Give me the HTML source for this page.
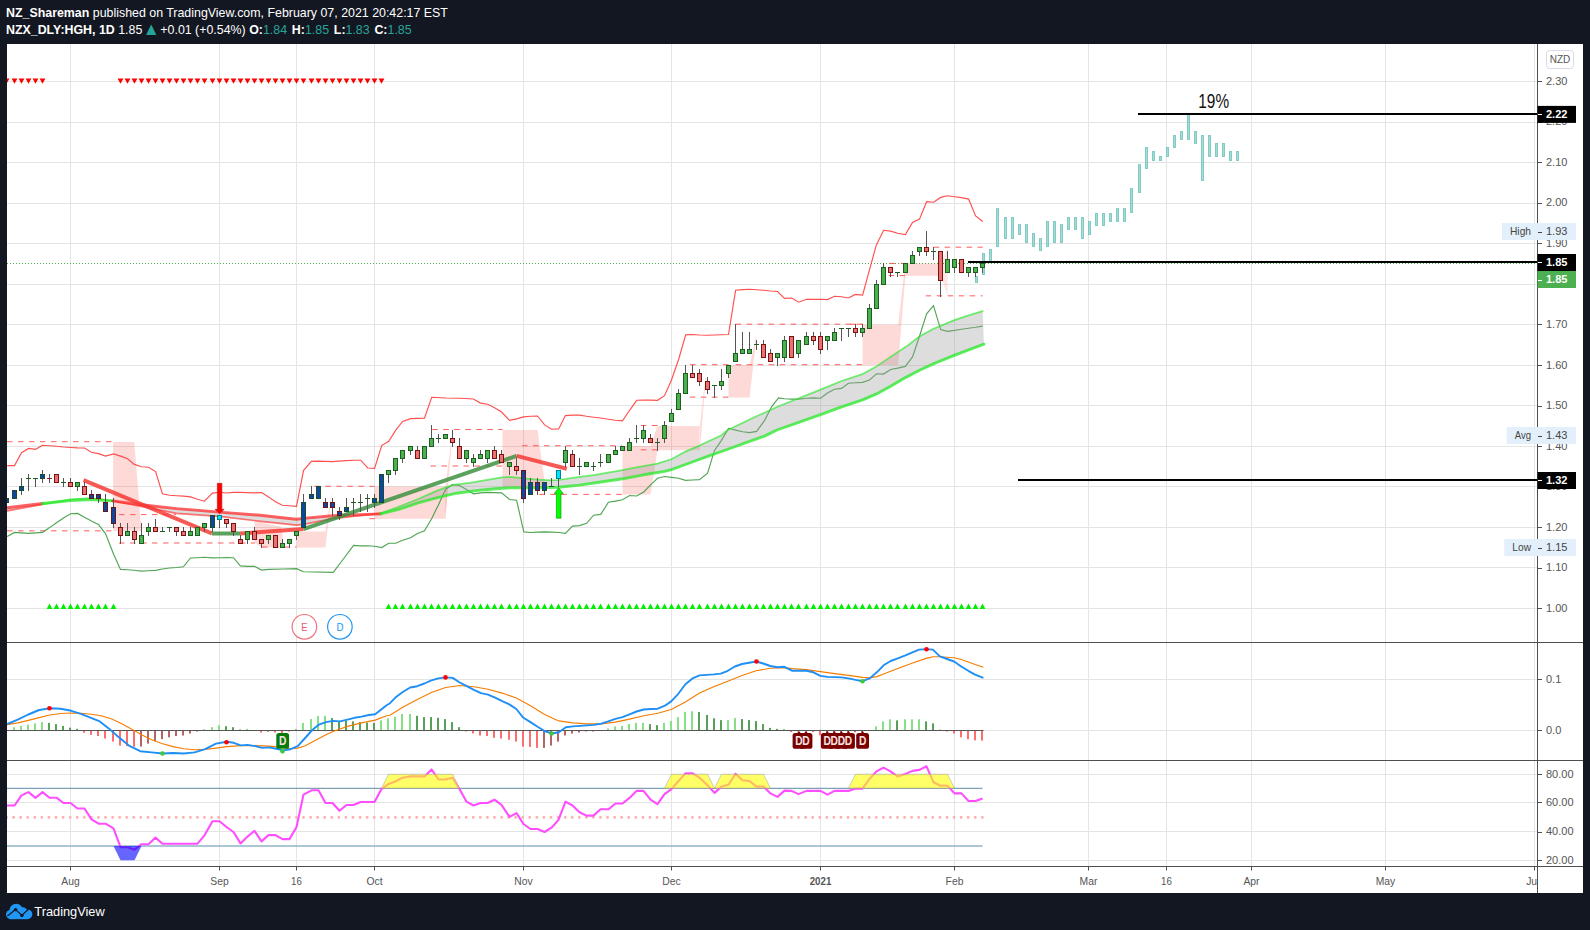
<!DOCTYPE html>
<html><head><meta charset="utf-8"><title>HGH chart</title>
<style>
html,body{margin:0;padding:0;background:#131722;}
body{width:1590px;height:930px;position:relative;overflow:hidden;font-family:"Liberation Sans",sans-serif;}
.hd{position:absolute;left:6px;transform-origin:0 0;transform:scaleX(0.953);color:#fff;font-size:13px;white-space:nowrap;line-height:16px;}
.hd b{font-weight:bold}
.hd b.k{margin-left:1.4px}
.t{color:#26a69a}
.tri{font-size:18px;line-height:0;position:relative;top:0.5px;margin:0 -3px 0 -3.2px;}
.ft{position:absolute;left:34.3px;top:902.5px;color:#fff;font-size:12.8px;line-height:17px;white-space:nowrap;}
</style></head><body>
<svg width="1590" height="930" viewBox="0 0 1590 930" style="position:absolute;left:0;top:0;font-family:'Liberation Sans',sans-serif">
<rect x="7" y="44" width="1576" height="849" fill="#fff"/>
<defs><clipPath id="cm"><rect x="7" y="44" width="1530" height="598.5"/></clipPath><clipPath id="c2"><rect x="7" y="642.5" width="1530" height="118.0"/></clipPath><clipPath id="c3"><rect x="7" y="760.5" width="1530" height="106.0"/></clipPath><clipPath id="ct"><rect x="7" y="866.5" width="1530" height="26.5"/></clipPath></defs>
<path d="M70.5 44V866.5M219.5 44V866.5M296.5 44V866.5M374.5 44V866.5M523.5 44V866.5M671.5 44V866.5M820.5 44V866.5M954.5 44V866.5M1088.5 44V866.5M1166.5 44V866.5M1251.5 44V866.5M1385.5 44V866.5M1534.5 44V866.5M7 608.5H1537M7 567.5H1537M7 527.5H1537M7 486.5H1537M7 446.5H1537M7 405.5H1537M7 365.5H1537M7 324.5H1537M7 284.5H1537M7 243.5H1537M7 203.5H1537M7 162.5H1537M7 122.5H1537M7 81.5H1537M7 679.5H1537M7 730.5H1537M7 774.5H1537M7 802.5H1537M7 831.5H1537M7 860.5H1537" stroke="#e4e4e4" stroke-width="1" fill="none"/>
<g clip-path="url(#cm)">
<path d="M7 263.5H1537" stroke="#4caf50" stroke-width="1" stroke-dasharray="1 2" fill="none"/>
<polygon points="113.1,442 134.2,442 141.5,531 113.1,531" fill="#f44336" fill-opacity="0.2"/>
<polygon points="254.5,521.3 280.6,526.4 282.6,534 282.6,547.5 261.5,547.5 254.5,542.5" fill="#f44336" fill-opacity="0.2"/>
<polygon points="296.7,531.4 325.4,531.4 332.5,488 325.4,547.5 296.7,547.5" fill="#f44336" fill-opacity="0.2"/>
<polygon points="374.6,486.6 447.7,486.6 445.5,518.7 374.6,518.7" fill="#f44336" fill-opacity="0.2"/>
<polygon points="502.5,430.1 537.5,430.1 545.3,487 502.5,487" fill="#f44336" fill-opacity="0.2"/>
<polygon points="622.5,446.1 650.4,446.1 657.5,425.9 657.5,450.2 650.4,494.4 622.5,494.4" fill="#f44336" fill-opacity="0.2"/>
<polygon points="657.5,425.9 699.5,425.9 699.5,450.2 657.5,450.2" fill="#f44336" fill-opacity="0.2"/>
<polygon points="728.5,365.2 749.6,365.2 756.7,333.9 749.6,397.5 728.5,397.5" fill="#f44336" fill-opacity="0.2"/>
<polygon points="862.6,324.7 898.2,324.7 905.3,263.6 905.3,275.7 898.2,365.2 862.6,365.2" fill="#f44336" fill-opacity="0.2"/>
<polygon points="905.4,263.6 940.6,263.6 940.6,275.7 905.4,275.7" fill="#f44336" fill-opacity="0.2"/>
<polygon points="445.5,486.6 452.6,430.1 445.5,518.7" fill="#f44336" fill-opacity="0.2"/>
<polygon points="699.9,425.9 706.8,365.2 699.9,450.2" fill="#f44336" fill-opacity="0.2"/>
<polygon points="940.6,263.6 947.6,247.3 947.6,296 940.6,275.7" fill="#f44336" fill-opacity="0.12"/>
<path d="M7 441.70H113" stroke="#ff4d4d" stroke-opacity="0.9" stroke-width="1" stroke-dasharray="5.5 5.5" fill="none"/>
<path d="M7 530.84H113" stroke="#ff4d4d" stroke-opacity="0.9" stroke-width="1" stroke-dasharray="5.5 5.5" fill="none"/>
<path d="M119 514.63H176" stroke="#ff4d4d" stroke-opacity="0.9" stroke-width="1" stroke-dasharray="5.5 5.5" fill="none"/>
<path d="M119 543.00H255" stroke="#ff4d4d" stroke-opacity="0.9" stroke-width="1" stroke-dasharray="5.5 5.5" fill="none"/>
<path d="M262 547.05H296.5" stroke="#ff4d4d" stroke-opacity="0.9" stroke-width="1" stroke-dasharray="5.5 5.5" fill="none"/>
<path d="M314.4 486.27H374.6" stroke="#ff4d4d" stroke-opacity="0.9" stroke-width="1" stroke-dasharray="5.5 5.5" fill="none"/>
<path d="M369.4 518.69H380.6" stroke="#ff4d4d" stroke-opacity="0.9" stroke-width="1" stroke-dasharray="5.5 5.5" fill="none"/>
<path d="M432.3 429.54H502.5" stroke="#ff4d4d" stroke-opacity="0.9" stroke-width="1" stroke-dasharray="5.5 5.5" fill="none"/>
<path d="M430.5 466.01H502.5" stroke="#ff4d4d" stroke-opacity="0.9" stroke-width="1" stroke-dasharray="5.5 5.5" fill="none"/>
<path d="M522 445.75H621.9" stroke="#ff4d4d" stroke-opacity="0.9" stroke-width="1" stroke-dasharray="5.5 5.5" fill="none"/>
<path d="M539.3 494.37H621.9" stroke="#ff4d4d" stroke-opacity="0.9" stroke-width="1" stroke-dasharray="5.5 5.5" fill="none"/>
<path d="M640.8 425.49H657.5" stroke="#ff4d4d" stroke-opacity="0.9" stroke-width="1" stroke-dasharray="5.5 5.5" fill="none"/>
<path d="M640.8 449.80H657.5" stroke="#ff4d4d" stroke-opacity="0.9" stroke-width="1" stroke-dasharray="5.5 5.5" fill="none"/>
<path d="M689.8 397.13H728.6" stroke="#ff4d4d" stroke-opacity="0.9" stroke-width="1" stroke-dasharray="5.5 5.5" fill="none"/>
<path d="M690 364.71H728.5" stroke="#ff4d4d" stroke-opacity="0.9" stroke-width="1" stroke-dasharray="5.5 5.5" fill="none"/>
<path d="M735.6 324.19H862.6" stroke="#ff4d4d" stroke-opacity="0.9" stroke-width="1" stroke-dasharray="5.5 5.5" fill="none"/>
<path d="M735.7 364.71H862.6" stroke="#ff4d4d" stroke-opacity="0.9" stroke-width="1" stroke-dasharray="5.5 5.5" fill="none"/>
<path d="M889.6 263.41H905.4" stroke="#ff4d4d" stroke-opacity="0.9" stroke-width="1" stroke-dasharray="5.5 5.5" fill="none"/>
<path d="M888.7 275.57H905.4" stroke="#ff4d4d" stroke-opacity="0.9" stroke-width="1" stroke-dasharray="5.5 5.5" fill="none"/>
<path d="M933.6 247.20H982.7" stroke="#ff4d4d" stroke-opacity="0.9" stroke-width="1" stroke-dasharray="5.5 5.5" fill="none"/>
<path d="M925.7 295.83H982.7" stroke="#ff4d4d" stroke-opacity="0.9" stroke-width="1" stroke-dasharray="5.5 5.5" fill="none"/>
<path d="M850 324.19H862.6" stroke="#ff4d4d" stroke-opacity="0.9" stroke-width="1" stroke-dasharray="5.5 5.5" fill="none"/>
<polyline points="7.2,465.6 14.5,465.6 21.5,452.7 28.6,448.4 35.6,449.3 42.5,445.3 49.6,445.8 56.4,446.3 63.5,447 70.6,447.5 77.6,447.9 84.5,448 91.4,452.2 98.4,453.6 105.5,456.1 113.6,453.9 120.5,456.1 127.5,458.7 134.4,464.4 141.5,466.8 148.5,467.3 155.6,471.6 162.4,493.7 169.5,495.2 176.6,495.7 183.4,496.1 190.5,496.9 197.6,499.2 204.4,501.2 212.5,493.1 219.4,492.3 226.5,493 233.5,492.4 240.4,492.4 247.5,492.6 254.5,492.8 261.6,492.6 268.5,496.9 275.1,501.5 282.2,505.3 289.4,505.8 296.5,506.3 303.5,470.6 311.3,461.4 318.3,461.1 325.4,461.4 332.4,461.6 339.5,461.1 346.5,460.6 353.6,460.2 360.7,460.2 367.7,468 374.6,468.3 381.7,445.6 388.7,441.3 395.8,430.1 402.6,421.5 410.6,418.6 417.4,418.4 424.5,418.1 431.7,397.3 446.7,398 460,398.3 473.3,399 480.6,403.1 487.7,404.3 494.5,407.7 501.6,412 509.5,420.3 516.6,418.9 523.5,416.9 530.7,416.3 537.5,416 544.6,424.9 551.6,429.2 558.7,428.9 565.4,415.6 572.5,415.1 579.5,415.1 586.6,416.3 593.6,417.2 600.7,418 608.4,419.2 615.5,420.3 622.5,420.9 629.6,410.3 636.7,400.3 643.7,400 650.4,400.1 657.5,400.3 664.5,395.7 671.4,380.2 678.6,359.5 685.7,334.9 692.5,334.5 699.6,335 707.3,335.2 714.4,335 721.4,334.7 728.5,334.5 735.6,290.3 742.6,289.6 749.5,289.3 756.5,289.8 763.4,290.3 770.5,291 777.5,291.5 784.6,298.4 791.7,298 798.7,302.2 806.5,299.3 813.5,299.3 820.6,299.3 827.4,299.6 834.5,296.3 841.6,296.7 848.4,298 855.5,294.4 862.6,295.1 869.6,269.3 876.3,245.2 883.6,230.3 890.6,231.1 897.7,233.2 905.4,234.6 912.5,222.5 919.5,219.1 926.6,201.7 933.6,202.2 940.7,197.4 947.4,195.8 954.5,196.7 961.5,197.6 968.6,199.1 975.6,216 982.7,221.5" fill="none" stroke="#ff3d3d" stroke-width="1.15" stroke-opacity="0.9"/>
<polyline points="7.2,536.5 14.5,532.4 21.5,532.9 28.6,533.4 35.6,532.9 42.5,532.4 49.6,527.6 56.4,522.7 63.5,518.1 70.6,513.8 77.6,513.4 84.5,517.2 91.4,521 98.4,524.5 105.5,533.6 113.6,554.2 120.5,569.4 127.5,569.7 134.4,570.2 141.5,571.1 148.5,570.7 155.6,570.4 162.4,569 169.5,568 176.6,567.5 183.4,566.8 190.5,558 197.6,557.7 204.4,557.3 212.5,557.8 219.4,557.7 226.5,557.5 233.5,557.7 240.4,565.9 247.5,566.3 254.5,566.3 261.6,570.1 268.5,569.4 283.3,569 296.7,568.7 303.3,571.7 333.3,572.3 342.6,560 353.6,545.4 360.7,545.8 367.7,545.8 374.6,546.3 381.7,547.6 388.7,543.3 395.8,543.2 402.6,540.2 410.6,537.7 417.4,533.4 424.5,530.8 431.6,518.7 438.4,505 445.5,489.5 452.6,484.7 459.4,485.5 466.5,489.5 473.5,493.8 480.6,492.9 487.7,492.4 494.5,492.6 501.6,492.9 509.5,499.5 516.6,500.3 523.8,531.9 530.7,532.5 537.5,532.1 544.6,531.9 551.6,532.1 558.7,532.5 565.4,533.3 572.5,526.1 579.5,525.6 586.6,523.3 593.6,515.2 600.7,514.4 608.4,502.3 615.5,501.1 622.5,499.8 629.6,495.5 636.7,496 643.7,492 650.4,485.1 657.5,478.3 664.5,476.5 671.4,477.4 678.6,478.3 685.5,480.3 692.4,480 699.5,479.6 707.6,473.1 714.4,450.7 721.5,440.4 728.5,428.3 735.6,430.1 742.7,431.8 749.5,432.6 756.6,431.4 764.5,420.6 771.6,406.8 778.5,397.9 784.6,398.7 791.7,399.1 798.7,399.1 806.5,398.2 813.5,397.9 820.6,398.2 827.4,393 834.5,389.3 841.6,388.4 848.4,383.2 855.5,382.7 862.6,382.4 869.4,380.1 876.5,373.8 883.5,374.1 890.6,369.5 897.7,368.1 905.4,366.4 912.5,356.9 919.5,336.3 926.6,313.9 933.5,305.6 940.7,329.6 947.4,331.3 954.5,330.4 961.5,329.2 968.6,328.2 975.6,327.3 982.7,326.1" fill="none" stroke="#3d9b41" stroke-width="1.15" stroke-opacity="0.9"/>
<polygon points="7.2,507.8 42.5,503.5 70.6,500.5 91.4,499.5 112.7,500.9 141.5,504.7 176.6,508.6 219.4,512.1 260.5,515.3 280,517.5 296.5,519.3 303.5,518.4 332.4,515.7 380.6,513.9 398.7,509.4 418.1,502.9 437.4,497.7 456.8,493.2 476.1,490.6 495.5,488.7 510,487.7 523.8,487.7 537.5,487.7 558.7,487.2 579.5,485.1 600.7,482 622.5,478.8 643.7,474.8 664.5,471.4 671.4,469.6 685.5,464.5 707.6,456.4 728.5,449 749.5,441.3 764.5,436.1 776.9,430 798.7,422.3 820.6,414.6 841.6,406.8 862.6,399.9 876.5,393.9 890.6,386.2 905.4,377.6 919.5,370.3 935,363.1 954.8,355.2 983.9,344.2 982.7,311.1 968.6,315.4 954.5,320.1 933.6,328.7 919.5,336.4 908.5,345 890.6,356.9 876.5,366.4 862.6,374.1 841.6,381 820.6,389.6 798.7,398.2 777.5,406.8 756.5,416.3 727.8,430 721.5,435.2 699.5,445.6 685.5,451.6 671.4,459.3 657.5,463.6 636.7,467.4 615.5,471.4 593.6,475.2 572.5,477.9 558.7,480 551.6,480.3 537.5,479.6 523.8,478.3 510,476.9 501.9,477.4 489,479.7 469.7,482.9 452.9,484.8 437.4,490.6 418.1,499 398.7,506.8 380.6,513.4 332.4,518.7 303.5,524.3 296.5,525.1 275.7,522.9 260.5,521.3 219.4,516.3 176.6,513.3 141.5,506.5 112.7,500.9 91.4,498 70.6,499.3 42.5,504.3 7.2,510.8" fill="#9e9e9e" fill-opacity="0.35"/>
<polyline points="7.2,510.8 42.5,504.3" fill="none" stroke="#ff2d2d" stroke-width="1.7" stroke-opacity="0.65" stroke-linecap="round" stroke-linejoin="round"/>
<polyline points="7.2,507.8 42.5,503.5" fill="none" stroke="#ff2d2d" stroke-width="2.9" stroke-opacity="0.75" stroke-linecap="round" stroke-linejoin="round"/>
<polyline points="42.5,504.3 70.6,499.3 91.4,498 112.7,500.9" fill="none" stroke="#27e827" stroke-width="1.7" stroke-opacity="0.65" stroke-linecap="round" stroke-linejoin="round"/>
<polyline points="42.5,503.5 70.6,500.5 91.4,499.5 112.7,500.9" fill="none" stroke="#27e827" stroke-width="2.9" stroke-opacity="0.75" stroke-linecap="round" stroke-linejoin="round"/>
<polyline points="112.7,500.9 141.5,506.5 176.6,513.3 219.4,516.3 260.5,521.3 275.7,522.9 296.5,525.1 303.5,524.3 332.4,518.7 380.6,513.4" fill="none" stroke="#ff2d2d" stroke-width="1.7" stroke-opacity="0.65" stroke-linecap="round" stroke-linejoin="round"/>
<polyline points="112.7,500.9 141.5,504.7 176.6,508.6 219.4,512.1 260.5,515.3 280,517.5 296.5,519.3 303.5,518.4 332.4,515.7 380.6,513.9" fill="none" stroke="#ff2d2d" stroke-width="2.9" stroke-opacity="0.75" stroke-linecap="round" stroke-linejoin="round"/>
<polyline points="380.6,513.4 398.7,506.8 418.1,499 437.4,490.6 452.9,484.8 469.7,482.9 489,479.7 501.9,477.4 510,476.9 523.8,478.3 537.5,479.6 551.6,480.3 558.7,480 572.5,477.9 593.6,475.2 615.5,471.4 636.7,467.4 657.5,463.6 671.4,459.3 685.5,451.6 699.5,445.6 721.5,435.2 727.8,430 756.5,416.3 777.5,406.8 798.7,398.2 820.6,389.6 841.6,381 862.6,374.1 876.5,366.4 890.6,356.9 908.5,345 919.5,336.4 933.6,328.7 954.5,320.1 968.6,315.4 982.7,311.1" fill="none" stroke="#27e827" stroke-width="1.7" stroke-opacity="0.65" stroke-linecap="round" stroke-linejoin="round"/>
<polyline points="380.6,513.9 398.7,509.4 418.1,502.9 437.4,497.7 456.8,493.2 476.1,490.6 495.5,488.7 510,487.7 523.8,487.7 537.5,487.7 558.7,487.2 579.5,485.1 600.7,482 622.5,478.8 643.7,474.8 664.5,471.4 671.4,469.6 685.5,464.5 707.6,456.4 728.5,449 749.5,441.3 764.5,436.1 776.9,430 798.7,422.3 820.6,414.6 841.6,406.8 862.6,399.9 876.5,393.9 890.6,386.2 905.4,377.6 919.5,370.3 935,363.1 954.8,355.2 983.9,344.2" fill="none" stroke="#27e827" stroke-width="2.9" stroke-opacity="0.75" stroke-linecap="round" stroke-linejoin="round"/>
<path d="M83.5 480.2L211.7 533.4" stroke="#f5352f" stroke-width="4" stroke-opacity="0.82" stroke-linecap="butt" fill="none"/>
<path d="M211.7 533.4L240.1 533.6" stroke="#388e3c" stroke-width="4" stroke-opacity="0.82" stroke-linecap="butt" fill="none"/>
<path d="M240.1 533.6L303.5 529.1" stroke="#f5352f" stroke-width="4" stroke-opacity="0.82" stroke-linecap="butt" fill="none"/>
<path d="M303.5 529.1L516.6 455.9" stroke="#388e3c" stroke-width="4" stroke-opacity="0.82" stroke-linecap="butt" fill="none"/>
<path d="M516.6 455.9L566.8 468.8" stroke="#f5352f" stroke-width="4" stroke-opacity="0.82" stroke-linecap="butt" fill="none"/>
<rect x="975.5" y="276.5" width="2" height="6" fill="#80cbc4" fill-opacity="0.7" stroke="#6cc4bb" stroke-opacity="0.8" stroke-width="1"/>
<rect x="982.5" y="253.5" width="2" height="21" fill="#80cbc4" fill-opacity="0.7" stroke="#6cc4bb" stroke-opacity="0.8" stroke-width="1"/>
<rect x="989.5" y="249.5" width="2" height="13" fill="#80cbc4" fill-opacity="0.7" stroke="#6cc4bb" stroke-opacity="0.8" stroke-width="1"/>
<rect x="996.5" y="208.5" width="2" height="38" fill="#80cbc4" fill-opacity="0.7" stroke="#6cc4bb" stroke-opacity="0.8" stroke-width="1"/>
<rect x="1004.5" y="217.5" width="2" height="21" fill="#80cbc4" fill-opacity="0.7" stroke="#6cc4bb" stroke-opacity="0.8" stroke-width="1"/>
<rect x="1011.5" y="217.5" width="2" height="21" fill="#80cbc4" fill-opacity="0.7" stroke="#6cc4bb" stroke-opacity="0.8" stroke-width="1"/>
<rect x="1018.5" y="224.5" width="2" height="10" fill="#80cbc4" fill-opacity="0.7" stroke="#6cc4bb" stroke-opacity="0.8" stroke-width="1"/>
<rect x="1025.5" y="224.5" width="2" height="18" fill="#80cbc4" fill-opacity="0.7" stroke="#6cc4bb" stroke-opacity="0.8" stroke-width="1"/>
<rect x="1032.5" y="233.5" width="2" height="13" fill="#80cbc4" fill-opacity="0.7" stroke="#6cc4bb" stroke-opacity="0.8" stroke-width="1"/>
<rect x="1039.5" y="238.5" width="2" height="12" fill="#80cbc4" fill-opacity="0.7" stroke="#6cc4bb" stroke-opacity="0.8" stroke-width="1"/>
<rect x="1046.5" y="221.5" width="2" height="25" fill="#80cbc4" fill-opacity="0.7" stroke="#6cc4bb" stroke-opacity="0.8" stroke-width="1"/>
<rect x="1053.5" y="221.5" width="2" height="21" fill="#80cbc4" fill-opacity="0.7" stroke="#6cc4bb" stroke-opacity="0.8" stroke-width="1"/>
<rect x="1060.5" y="224.5" width="2" height="18" fill="#80cbc4" fill-opacity="0.7" stroke="#6cc4bb" stroke-opacity="0.8" stroke-width="1"/>
<rect x="1067.5" y="217.5" width="2" height="12" fill="#80cbc4" fill-opacity="0.7" stroke="#6cc4bb" stroke-opacity="0.8" stroke-width="1"/>
<rect x="1074.5" y="217.5" width="2" height="12" fill="#80cbc4" fill-opacity="0.7" stroke="#6cc4bb" stroke-opacity="0.8" stroke-width="1"/>
<rect x="1081.5" y="217.5" width="2" height="21" fill="#80cbc4" fill-opacity="0.7" stroke="#6cc4bb" stroke-opacity="0.8" stroke-width="1"/>
<rect x="1088.5" y="221.5" width="2" height="13" fill="#80cbc4" fill-opacity="0.7" stroke="#6cc4bb" stroke-opacity="0.8" stroke-width="1"/>
<rect x="1095.5" y="213.5" width="2" height="12" fill="#80cbc4" fill-opacity="0.7" stroke="#6cc4bb" stroke-opacity="0.8" stroke-width="1"/>
<rect x="1102.5" y="213.5" width="2" height="12" fill="#80cbc4" fill-opacity="0.7" stroke="#6cc4bb" stroke-opacity="0.8" stroke-width="1"/>
<rect x="1109.5" y="213.5" width="2" height="8" fill="#80cbc4" fill-opacity="0.7" stroke="#6cc4bb" stroke-opacity="0.8" stroke-width="1"/>
<rect x="1116.5" y="208.5" width="2" height="13" fill="#80cbc4" fill-opacity="0.7" stroke="#6cc4bb" stroke-opacity="0.8" stroke-width="1"/>
<rect x="1123.5" y="208.5" width="2" height="13" fill="#80cbc4" fill-opacity="0.7" stroke="#6cc4bb" stroke-opacity="0.8" stroke-width="1"/>
<rect x="1130.5" y="188.5" width="2" height="24" fill="#80cbc4" fill-opacity="0.7" stroke="#6cc4bb" stroke-opacity="0.8" stroke-width="1"/>
<rect x="1138.5" y="164.5" width="2" height="28" fill="#80cbc4" fill-opacity="0.7" stroke="#6cc4bb" stroke-opacity="0.8" stroke-width="1"/>
<rect x="1145.5" y="147.5" width="2" height="21" fill="#80cbc4" fill-opacity="0.7" stroke="#6cc4bb" stroke-opacity="0.8" stroke-width="1"/>
<rect x="1152.5" y="151.5" width="2" height="9" fill="#80cbc4" fill-opacity="0.7" stroke="#6cc4bb" stroke-opacity="0.8" stroke-width="1"/>
<rect x="1159.5" y="156.5" width="2" height="4" fill="#80cbc4" fill-opacity="0.7" stroke="#6cc4bb" stroke-opacity="0.8" stroke-width="1"/>
<rect x="1166.5" y="147.5" width="2" height="9" fill="#80cbc4" fill-opacity="0.7" stroke="#6cc4bb" stroke-opacity="0.8" stroke-width="1"/>
<rect x="1173.5" y="135.5" width="2" height="12" fill="#80cbc4" fill-opacity="0.7" stroke="#6cc4bb" stroke-opacity="0.8" stroke-width="1"/>
<rect x="1180.5" y="131.5" width="2" height="8" fill="#80cbc4" fill-opacity="0.7" stroke="#6cc4bb" stroke-opacity="0.8" stroke-width="1"/>
<rect x="1187.5" y="114.5" width="2" height="25" fill="#80cbc4" fill-opacity="0.7" stroke="#6cc4bb" stroke-opacity="0.8" stroke-width="1"/>
<rect x="1194.5" y="131.5" width="2" height="12" fill="#80cbc4" fill-opacity="0.7" stroke="#6cc4bb" stroke-opacity="0.8" stroke-width="1"/>
<rect x="1201.5" y="135.5" width="2" height="45" fill="#80cbc4" fill-opacity="0.7" stroke="#6cc4bb" stroke-opacity="0.8" stroke-width="1"/>
<rect x="1208.5" y="135.5" width="2" height="21" fill="#80cbc4" fill-opacity="0.7" stroke="#6cc4bb" stroke-opacity="0.8" stroke-width="1"/>
<rect x="1215.5" y="143.5" width="2" height="13" fill="#80cbc4" fill-opacity="0.7" stroke="#6cc4bb" stroke-opacity="0.8" stroke-width="1"/>
<rect x="1222.5" y="143.5" width="2" height="13" fill="#80cbc4" fill-opacity="0.7" stroke="#6cc4bb" stroke-opacity="0.8" stroke-width="1"/>
<rect x="1229.5" y="151.5" width="2" height="9" fill="#80cbc4" fill-opacity="0.7" stroke="#6cc4bb" stroke-opacity="0.8" stroke-width="1"/>
<rect x="1236.5" y="151.5" width="2" height="9" fill="#80cbc4" fill-opacity="0.7" stroke="#6cc4bb" stroke-opacity="0.8" stroke-width="1"/>
<path d="M6.5 498V503" stroke="#555" stroke-width="1"/>
<rect x="4.5" y="498.5" width="4" height="4.0" fill="#0d47a1" stroke="#1b4d2b" stroke-width="1"/>
<path d="M14.5 490V499" stroke="#555" stroke-width="1"/>
<rect x="12.5" y="490.5" width="4" height="8.0" fill="#0d47a1" stroke="#1b4d2b" stroke-width="1"/>
<path d="M21.5 478V495" stroke="#555" stroke-width="1"/>
<rect x="19.5" y="486.5" width="4" height="4.0" fill="#0d47a1" stroke="#1b4d2b" stroke-width="1"/>
<path d="M28.5 474V491" stroke="#555" stroke-width="1"/>
<path d="M26.0 478.5H31.0" stroke="#1b5e20" stroke-width="1"/>
<path d="M35.5 478V487" stroke="#555" stroke-width="1"/>
<path d="M33.0 478.5H38.0" stroke="#1b5e20" stroke-width="1"/>
<path d="M42.5 470V483" stroke="#555" stroke-width="1"/>
<rect x="40.5" y="474.5" width="4" height="4.0" fill="#0d47a1" stroke="#1b4d2b" stroke-width="1"/>
<path d="M49.5 474V483" stroke="#555" stroke-width="1"/>
<path d="M47.0 478.5H52.0" stroke="#8e1b1b" stroke-width="1"/>
<path d="M56.5 474V483" stroke="#555" stroke-width="1"/>
<rect x="54.5" y="474.5" width="4" height="8.0" fill="#e57373" stroke="#7f1010" stroke-width="1"/>
<path d="M63.5 478V487" stroke="#555" stroke-width="1"/>
<path d="M61.0 482.5H66.0" stroke="#1b5e20" stroke-width="1"/>
<path d="M70.5 478V487" stroke="#555" stroke-width="1"/>
<rect x="68.5" y="482.5" width="4" height="4.0" fill="#e57373" stroke="#7f1010" stroke-width="1"/>
<path d="M77.5 482V491" stroke="#555" stroke-width="1"/>
<rect x="75.5" y="482.5" width="4" height="4.0" fill="#4caf50" stroke="#1b5e20" stroke-width="1"/>
<path d="M84.5 482V495" stroke="#555" stroke-width="1"/>
<rect x="82.5" y="486.5" width="4" height="8.0" fill="#e57373" stroke="#7f1010" stroke-width="1"/>
<path d="M91.5 490V499" stroke="#555" stroke-width="1"/>
<rect x="89.5" y="494.5" width="4" height="4.0" fill="#0d47a1" stroke="#6b1414" stroke-width="1"/>
<path d="M98.5 494V503" stroke="#555" stroke-width="1"/>
<rect x="96.5" y="494.5" width="4" height="4.0" fill="#0d47a1" stroke="#6b1414" stroke-width="1"/>
<path d="M105.5 494V512" stroke="#555" stroke-width="1"/>
<rect x="103.5" y="502.5" width="4" height="9.0" fill="#0d47a1" stroke="#6b1414" stroke-width="1"/>
<path d="M113.5 498V528" stroke="#555" stroke-width="1"/>
<rect x="111.5" y="507.5" width="4" height="16.0" fill="#0d47a1" stroke="#6b1414" stroke-width="1"/>
<path d="M120.5 523V544" stroke="#555" stroke-width="1"/>
<rect x="118.5" y="527.5" width="4" height="8.0" fill="#e57373" stroke="#7f1010" stroke-width="1"/>
<path d="M127.5 523V536" stroke="#555" stroke-width="1"/>
<rect x="125.5" y="531.5" width="4" height="4.0" fill="#4caf50" stroke="#1b5e20" stroke-width="1"/>
<path d="M134.5 527V544" stroke="#555" stroke-width="1"/>
<rect x="132.5" y="531.5" width="4" height="8.0" fill="#e57373" stroke="#7f1010" stroke-width="1"/>
<path d="M141.5 523V544" stroke="#555" stroke-width="1"/>
<rect x="139.5" y="535.5" width="4" height="8.0" fill="#4caf50" stroke="#1b5e20" stroke-width="1"/>
<path d="M148.5 523V536" stroke="#555" stroke-width="1"/>
<rect x="146.5" y="527.5" width="4" height="4.0" fill="#4caf50" stroke="#1b5e20" stroke-width="1"/>
<path d="M155.5 519V532" stroke="#555" stroke-width="1"/>
<rect x="153.5" y="527.5" width="4" height="4.0" fill="#e57373" stroke="#7f1010" stroke-width="1"/>
<path d="M162.5 527V532" stroke="#555" stroke-width="1"/>
<path d="M160.0 531.5H165.0" stroke="#1b5e20" stroke-width="1"/>
<path d="M169.5 527V532" stroke="#555" stroke-width="1"/>
<path d="M167.0 527.5H172.0" stroke="#1b5e20" stroke-width="1"/>
<path d="M176.5 527V536" stroke="#555" stroke-width="1"/>
<rect x="174.5" y="527.5" width="4" height="4.0" fill="#e57373" stroke="#7f1010" stroke-width="1"/>
<path d="M183.5 527V536" stroke="#555" stroke-width="1"/>
<rect x="181.5" y="531.5" width="4" height="4.0" fill="#e57373" stroke="#7f1010" stroke-width="1"/>
<path d="M190.5 527V536" stroke="#555" stroke-width="1"/>
<rect x="188.5" y="531.5" width="4" height="4.0" fill="#4caf50" stroke="#1b5e20" stroke-width="1"/>
<path d="M197.5 527V536" stroke="#555" stroke-width="1"/>
<rect x="195.5" y="527.5" width="4" height="8.0" fill="#4caf50" stroke="#1b5e20" stroke-width="1"/>
<path d="M204.5 523V532" stroke="#555" stroke-width="1"/>
<rect x="202.5" y="523.5" width="4" height="4.0" fill="#4caf50" stroke="#1b5e20" stroke-width="1"/>
<path d="M212.5 515V532" stroke="#555" stroke-width="1"/>
<rect x="210.5" y="515.5" width="4" height="12.0" fill="#0d47a1" stroke="#1b4d2b" stroke-width="1"/>
<path d="M219.5 515V528" stroke="#555" stroke-width="1"/>
<rect x="217.5" y="515.5" width="4" height="4.0" fill="#00e5ff" stroke="#00838f" stroke-width="1"/>
<path d="M226.5 519V528" stroke="#555" stroke-width="1"/>
<rect x="224.5" y="519.5" width="4" height="4.0" fill="#e57373" stroke="#7f1010" stroke-width="1"/>
<path d="M233.5 523V536" stroke="#555" stroke-width="1"/>
<rect x="231.5" y="523.5" width="4" height="8.0" fill="#e57373" stroke="#7f1010" stroke-width="1"/>
<path d="M240.5 535V544" stroke="#555" stroke-width="1"/>
<rect x="238.5" y="539.5" width="4" height="4.0" fill="#e57373" stroke="#7f1010" stroke-width="1"/>
<path d="M247.5 531V544" stroke="#555" stroke-width="1"/>
<rect x="245.5" y="531.5" width="4" height="8.0" fill="#4caf50" stroke="#1b5e20" stroke-width="1"/>
<path d="M254.5 527V540" stroke="#555" stroke-width="1"/>
<rect x="252.5" y="531.5" width="4" height="8.0" fill="#e57373" stroke="#7f1010" stroke-width="1"/>
<path d="M261.5 539V548" stroke="#555" stroke-width="1"/>
<rect x="259.5" y="539.5" width="4" height="4.0" fill="#e57373" stroke="#7f1010" stroke-width="1"/>
<path d="M268.5 535V544" stroke="#555" stroke-width="1"/>
<rect x="266.5" y="535.5" width="4" height="4.0" fill="#4caf50" stroke="#1b5e20" stroke-width="1"/>
<path d="M275.5 535V548" stroke="#555" stroke-width="1"/>
<rect x="273.5" y="535.5" width="4" height="12.0" fill="#e57373" stroke="#7f1010" stroke-width="1"/>
<path d="M282.5 539V548" stroke="#555" stroke-width="1"/>
<rect x="280.5" y="543.5" width="4" height="4.0" fill="#4caf50" stroke="#1b5e20" stroke-width="1"/>
<path d="M289.5 539V548" stroke="#555" stroke-width="1"/>
<rect x="287.5" y="539.5" width="4" height="4.0" fill="#4caf50" stroke="#1b5e20" stroke-width="1"/>
<path d="M296.5 531V540" stroke="#555" stroke-width="1"/>
<rect x="294.5" y="531.5" width="4" height="4.0" fill="#4caf50" stroke="#1b5e20" stroke-width="1"/>
<path d="M303.5 494V528" stroke="#555" stroke-width="1"/>
<rect x="301.5" y="502.5" width="4" height="25.0" fill="#0d47a1" stroke="#1b4d2b" stroke-width="1"/>
<path d="M311.5 486V499" stroke="#555" stroke-width="1"/>
<rect x="309.5" y="494.5" width="4" height="4.0" fill="#0d47a1" stroke="#1b4d2b" stroke-width="1"/>
<path d="M318.5 486V499" stroke="#555" stroke-width="1"/>
<rect x="316.5" y="486.5" width="4" height="12.0" fill="#0d47a1" stroke="#1b4d2b" stroke-width="1"/>
<path d="M325.5 498V508" stroke="#555" stroke-width="1"/>
<rect x="323.5" y="502.5" width="4" height="5.0" fill="#0d47a1" stroke="#6b1414" stroke-width="1"/>
<path d="M332.5 498V516" stroke="#555" stroke-width="1"/>
<rect x="330.5" y="502.5" width="4" height="5.0" fill="#0d47a1" stroke="#6b1414" stroke-width="1"/>
<path d="M339.5 507V520" stroke="#555" stroke-width="1"/>
<rect x="337.5" y="511.5" width="4" height="4.0" fill="#0d47a1" stroke="#6b1414" stroke-width="1"/>
<path d="M346.5 498V512" stroke="#555" stroke-width="1"/>
<rect x="344.5" y="507.5" width="4" height="4.0" fill="#0d47a1" stroke="#1b4d2b" stroke-width="1"/>
<path d="M353.5 498V516" stroke="#555" stroke-width="1"/>
<path d="M351.0 502.5H356.0" stroke="#1b5e20" stroke-width="1"/>
<path d="M360.5 494V512" stroke="#555" stroke-width="1"/>
<path d="M358.0 502.5H363.0" stroke="#1b5e20" stroke-width="1"/>
<path d="M367.5 494V512" stroke="#555" stroke-width="1"/>
<path d="M365.0 498.5H370.0" stroke="#1b5e20" stroke-width="1"/>
<path d="M374.5 494V508" stroke="#555" stroke-width="1"/>
<rect x="372.5" y="498.5" width="4" height="4.0" fill="#0d47a1" stroke="#1b4d2b" stroke-width="1"/>
<path d="M381.5 474V503" stroke="#555" stroke-width="1"/>
<rect x="379.5" y="474.5" width="4" height="28.0" fill="#0d47a1" stroke="#1b4d2b" stroke-width="1"/>
<path d="M388.5 470V483" stroke="#555" stroke-width="1"/>
<rect x="386.5" y="470.5" width="4" height="4.0" fill="#4caf50" stroke="#1b5e20" stroke-width="1"/>
<path d="M395.5 458V475" stroke="#555" stroke-width="1"/>
<rect x="393.5" y="458.5" width="4" height="12.0" fill="#4caf50" stroke="#1b5e20" stroke-width="1"/>
<path d="M402.5 450V463" stroke="#555" stroke-width="1"/>
<rect x="400.5" y="450.5" width="4" height="8.0" fill="#4caf50" stroke="#1b5e20" stroke-width="1"/>
<path d="M410.5 446V455" stroke="#555" stroke-width="1"/>
<rect x="408.5" y="446.5" width="4" height="4.0" fill="#4caf50" stroke="#1b5e20" stroke-width="1"/>
<path d="M417.5 446V459" stroke="#555" stroke-width="1"/>
<rect x="415.5" y="450.5" width="4" height="8.0" fill="#e57373" stroke="#7f1010" stroke-width="1"/>
<path d="M424.5 446V459" stroke="#555" stroke-width="1"/>
<rect x="422.5" y="446.5" width="4" height="12.0" fill="#4caf50" stroke="#1b5e20" stroke-width="1"/>
<path d="M431.5 425V447" stroke="#555" stroke-width="1"/>
<rect x="429.5" y="438.5" width="4" height="8.0" fill="#4caf50" stroke="#1b5e20" stroke-width="1"/>
<path d="M438.5 434V443" stroke="#555" stroke-width="1"/>
<path d="M436.0 438.5H441.0" stroke="#1b5e20" stroke-width="1"/>
<path d="M445.5 434V439" stroke="#555" stroke-width="1"/>
<rect x="443.5" y="434.5" width="4" height="4.0" fill="#4caf50" stroke="#1b5e20" stroke-width="1"/>
<path d="M452.5 430V447" stroke="#555" stroke-width="1"/>
<rect x="450.5" y="438.5" width="4" height="4.0" fill="#e57373" stroke="#7f1010" stroke-width="1"/>
<path d="M459.5 438V459" stroke="#555" stroke-width="1"/>
<rect x="457.5" y="446.5" width="4" height="12.0" fill="#e57373" stroke="#7f1010" stroke-width="1"/>
<path d="M466.5 450V463" stroke="#555" stroke-width="1"/>
<rect x="464.5" y="450.5" width="4" height="8.0" fill="#4caf50" stroke="#1b5e20" stroke-width="1"/>
<path d="M473.5 454V467" stroke="#555" stroke-width="1"/>
<rect x="471.5" y="458.5" width="4" height="4.0" fill="#4caf50" stroke="#1b5e20" stroke-width="1"/>
<path d="M480.5 450V459" stroke="#555" stroke-width="1"/>
<rect x="478.5" y="454.5" width="4" height="4.0" fill="#4caf50" stroke="#1b5e20" stroke-width="1"/>
<path d="M487.5 450V463" stroke="#555" stroke-width="1"/>
<rect x="485.5" y="450.5" width="4" height="8.0" fill="#4caf50" stroke="#1b5e20" stroke-width="1"/>
<path d="M494.5 446V459" stroke="#555" stroke-width="1"/>
<rect x="492.5" y="450.5" width="4" height="8.0" fill="#e57373" stroke="#7f1010" stroke-width="1"/>
<path d="M501.5 450V463" stroke="#555" stroke-width="1"/>
<rect x="499.5" y="454.5" width="4" height="8.0" fill="#e57373" stroke="#7f1010" stroke-width="1"/>
<path d="M509.5 462V475" stroke="#555" stroke-width="1"/>
<rect x="507.5" y="462.5" width="4" height="4.0" fill="#4caf50" stroke="#1b5e20" stroke-width="1"/>
<path d="M516.5 458V475" stroke="#555" stroke-width="1"/>
<rect x="514.5" y="466.5" width="4" height="4.0" fill="#e57373" stroke="#7f1010" stroke-width="1"/>
<path d="M523.5 470V503" stroke="#555" stroke-width="1"/>
<rect x="521.5" y="470.5" width="4" height="28.0" fill="#0d47a1" stroke="#6b1414" stroke-width="1"/>
<path d="M530.5 478V495" stroke="#555" stroke-width="1"/>
<rect x="528.5" y="482.5" width="4" height="12.0" fill="#0d47a1" stroke="#1b4d2b" stroke-width="1"/>
<path d="M537.5 478V495" stroke="#555" stroke-width="1"/>
<rect x="535.5" y="482.5" width="4" height="8.0" fill="#0d47a1" stroke="#6b1414" stroke-width="1"/>
<path d="M544.5 482V495" stroke="#555" stroke-width="1"/>
<rect x="542.5" y="482.5" width="4" height="8.0" fill="#0d47a1" stroke="#1b4d2b" stroke-width="1"/>
<path d="M551.5 478V487" stroke="#555" stroke-width="1"/>
<path d="M549.0 486.5H554.0" stroke="#1b5e20" stroke-width="1"/>
<path d="M558.5 470V487" stroke="#555" stroke-width="1"/>
<rect x="556.5" y="470.5" width="4" height="8.0" fill="#00e5ff" stroke="#00838f" stroke-width="1"/>
<path d="M565.5 446V467" stroke="#555" stroke-width="1"/>
<rect x="563.5" y="450.5" width="4" height="12.0" fill="#4caf50" stroke="#1b5e20" stroke-width="1"/>
<path d="M572.5 450V467" stroke="#555" stroke-width="1"/>
<rect x="570.5" y="454.5" width="4" height="12.0" fill="#e57373" stroke="#7f1010" stroke-width="1"/>
<path d="M579.5 458V475" stroke="#555" stroke-width="1"/>
<path d="M577.0 466.5H582.0" stroke="#1b5e20" stroke-width="1"/>
<path d="M586.5 462V467" stroke="#555" stroke-width="1"/>
<rect x="584.5" y="462.5" width="4" height="4.0" fill="#4caf50" stroke="#1b5e20" stroke-width="1"/>
<path d="M593.5 462V471" stroke="#555" stroke-width="1"/>
<path d="M591.0 466.5H596.0" stroke="#1b5e20" stroke-width="1"/>
<path d="M600.5 454V467" stroke="#555" stroke-width="1"/>
<path d="M598.0 462.5H603.0" stroke="#1b5e20" stroke-width="1"/>
<path d="M608.5 454V463" stroke="#555" stroke-width="1"/>
<rect x="606.5" y="454.5" width="4" height="8.0" fill="#4caf50" stroke="#1b5e20" stroke-width="1"/>
<path d="M615.5 446V455" stroke="#555" stroke-width="1"/>
<rect x="613.5" y="450.5" width="4" height="4.0" fill="#4caf50" stroke="#1b5e20" stroke-width="1"/>
<path d="M622.5 446V451" stroke="#555" stroke-width="1"/>
<rect x="620.5" y="446.5" width="4" height="4.0" fill="#4caf50" stroke="#1b5e20" stroke-width="1"/>
<path d="M629.5 438V451" stroke="#555" stroke-width="1"/>
<rect x="627.5" y="442.5" width="4" height="8.0" fill="#4caf50" stroke="#1b5e20" stroke-width="1"/>
<path d="M636.5 425V443" stroke="#555" stroke-width="1"/>
<path d="M634.0 438.5H639.0" stroke="#1b5e20" stroke-width="1"/>
<path d="M643.5 425V443" stroke="#555" stroke-width="1"/>
<rect x="641.5" y="430.5" width="4" height="8.0" fill="#4caf50" stroke="#1b5e20" stroke-width="1"/>
<path d="M650.5 434V443" stroke="#555" stroke-width="1"/>
<rect x="648.5" y="438.5" width="4" height="4.0" fill="#e57373" stroke="#7f1010" stroke-width="1"/>
<path d="M657.5 438V451" stroke="#555" stroke-width="1"/>
<path d="M655.0 442.5H660.0" stroke="#1b5e20" stroke-width="1"/>
<path d="M664.5 421V443" stroke="#555" stroke-width="1"/>
<rect x="662.5" y="425.5" width="4" height="13.0" fill="#4caf50" stroke="#1b5e20" stroke-width="1"/>
<path d="M671.5 409V422" stroke="#555" stroke-width="1"/>
<rect x="669.5" y="413.5" width="4" height="8.0" fill="#4caf50" stroke="#1b5e20" stroke-width="1"/>
<path d="M678.5 389V410" stroke="#555" stroke-width="1"/>
<rect x="676.5" y="393.5" width="4" height="16.0" fill="#4caf50" stroke="#1b5e20" stroke-width="1"/>
<path d="M685.5 365V394" stroke="#555" stroke-width="1"/>
<rect x="683.5" y="373.5" width="4" height="20.0" fill="#4caf50" stroke="#1b5e20" stroke-width="1"/>
<path d="M692.5 365V378" stroke="#555" stroke-width="1"/>
<rect x="690.5" y="373.5" width="4" height="4.0" fill="#e57373" stroke="#7f1010" stroke-width="1"/>
<path d="M699.5 369V386" stroke="#555" stroke-width="1"/>
<rect x="697.5" y="373.5" width="4" height="8.0" fill="#e57373" stroke="#7f1010" stroke-width="1"/>
<path d="M707.5 377V394" stroke="#555" stroke-width="1"/>
<rect x="705.5" y="381.5" width="4" height="8.0" fill="#e57373" stroke="#7f1010" stroke-width="1"/>
<path d="M714.5 385V398" stroke="#555" stroke-width="1"/>
<path d="M712.0 385.5H717.0" stroke="#1b5e20" stroke-width="1"/>
<path d="M721.5 369V390" stroke="#555" stroke-width="1"/>
<rect x="719.5" y="381.5" width="4" height="4.0" fill="#4caf50" stroke="#1b5e20" stroke-width="1"/>
<path d="M728.5 365V378" stroke="#555" stroke-width="1"/>
<rect x="726.5" y="365.5" width="4" height="8.0" fill="#4caf50" stroke="#1b5e20" stroke-width="1"/>
<path d="M735.5 324V362" stroke="#555" stroke-width="1"/>
<rect x="733.5" y="353.5" width="4" height="8.0" fill="#4caf50" stroke="#1b5e20" stroke-width="1"/>
<path d="M742.5 332V354" stroke="#555" stroke-width="1"/>
<rect x="740.5" y="349.5" width="4" height="4.0" fill="#4caf50" stroke="#1b5e20" stroke-width="1"/>
<path d="M749.5 332V354" stroke="#555" stroke-width="1"/>
<rect x="747.5" y="349.5" width="4" height="4.0" fill="#4caf50" stroke="#1b5e20" stroke-width="1"/>
<path d="M756.5 340V350" stroke="#555" stroke-width="1"/>
<path d="M754.0 344.5H759.0" stroke="#1b5e20" stroke-width="1"/>
<path d="M763.5 340V358" stroke="#555" stroke-width="1"/>
<rect x="761.5" y="344.5" width="4" height="13.0" fill="#e57373" stroke="#7f1010" stroke-width="1"/>
<path d="M770.5 349V362" stroke="#555" stroke-width="1"/>
<rect x="768.5" y="353.5" width="4" height="8.0" fill="#e57373" stroke="#7f1010" stroke-width="1"/>
<path d="M777.5 353V366" stroke="#555" stroke-width="1"/>
<rect x="775.5" y="353.5" width="4" height="4.0" fill="#4caf50" stroke="#1b5e20" stroke-width="1"/>
<path d="M784.5 336V362" stroke="#555" stroke-width="1"/>
<rect x="782.5" y="340.5" width="4" height="17.0" fill="#4caf50" stroke="#1b5e20" stroke-width="1"/>
<path d="M791.5 336V358" stroke="#555" stroke-width="1"/>
<rect x="789.5" y="336.5" width="4" height="21.0" fill="#e57373" stroke="#7f1010" stroke-width="1"/>
<path d="M798.5 340V358" stroke="#555" stroke-width="1"/>
<rect x="796.5" y="340.5" width="4" height="13.0" fill="#4caf50" stroke="#1b5e20" stroke-width="1"/>
<path d="M806.5 332V345" stroke="#555" stroke-width="1"/>
<rect x="804.5" y="336.5" width="4" height="8.0" fill="#4caf50" stroke="#1b5e20" stroke-width="1"/>
<path d="M813.5 332V345" stroke="#555" stroke-width="1"/>
<rect x="811.5" y="336.5" width="4" height="4.0" fill="#e57373" stroke="#7f1010" stroke-width="1"/>
<path d="M820.5 332V354" stroke="#555" stroke-width="1"/>
<rect x="818.5" y="336.5" width="4" height="13.0" fill="#e57373" stroke="#7f1010" stroke-width="1"/>
<path d="M827.5 336V350" stroke="#555" stroke-width="1"/>
<rect x="825.5" y="336.5" width="4" height="4.0" fill="#4caf50" stroke="#1b5e20" stroke-width="1"/>
<path d="M834.5 328V341" stroke="#555" stroke-width="1"/>
<rect x="832.5" y="332.5" width="4" height="8.0" fill="#4caf50" stroke="#1b5e20" stroke-width="1"/>
<path d="M841.5 328V341" stroke="#555" stroke-width="1"/>
<path d="M839.0 328.5H844.0" stroke="#1b5e20" stroke-width="1"/>
<path d="M848.5 328V337" stroke="#555" stroke-width="1"/>
<path d="M846.0 328.5H851.0" stroke="#1b5e20" stroke-width="1"/>
<path d="M855.5 324V337" stroke="#555" stroke-width="1"/>
<rect x="853.5" y="328.5" width="4" height="4.0" fill="#e57373" stroke="#7f1010" stroke-width="1"/>
<path d="M862.5 324V337" stroke="#555" stroke-width="1"/>
<rect x="860.5" y="328.5" width="4" height="4.0" fill="#4caf50" stroke="#1b5e20" stroke-width="1"/>
<path d="M869.5 304V329" stroke="#555" stroke-width="1"/>
<rect x="867.5" y="308.5" width="4" height="20.0" fill="#4caf50" stroke="#1b5e20" stroke-width="1"/>
<path d="M876.5 280V309" stroke="#555" stroke-width="1"/>
<rect x="874.5" y="284.5" width="4" height="24.0" fill="#4caf50" stroke="#1b5e20" stroke-width="1"/>
<path d="M883.5 263V285" stroke="#555" stroke-width="1"/>
<rect x="881.5" y="267.5" width="4" height="17.0" fill="#4caf50" stroke="#1b5e20" stroke-width="1"/>
<path d="M890.5 267V277" stroke="#555" stroke-width="1"/>
<rect x="888.5" y="267.5" width="4" height="5.0" fill="#e57373" stroke="#7f1010" stroke-width="1"/>
<path d="M897.5 272V277" stroke="#555" stroke-width="1"/>
<path d="M895.0 272.5H900.0" stroke="#1b5e20" stroke-width="1"/>
<path d="M905.5 263V273" stroke="#555" stroke-width="1"/>
<rect x="903.5" y="263.5" width="4" height="9.0" fill="#4caf50" stroke="#1b5e20" stroke-width="1"/>
<path d="M912.5 251V264" stroke="#555" stroke-width="1"/>
<rect x="910.5" y="255.5" width="4" height="8.0" fill="#4caf50" stroke="#1b5e20" stroke-width="1"/>
<path d="M919.5 247V256" stroke="#555" stroke-width="1"/>
<rect x="917.5" y="247.5" width="4" height="4.0" fill="#4caf50" stroke="#1b5e20" stroke-width="1"/>
<path d="M926.5 231V256" stroke="#555" stroke-width="1"/>
<rect x="924.5" y="247.5" width="4" height="4.0" fill="#e57373" stroke="#7f1010" stroke-width="1"/>
<path d="M933.5 247V260" stroke="#555" stroke-width="1"/>
<path d="M931.0 251.5H936.0" stroke="#1b5e20" stroke-width="1"/>
<path d="M940.5 251V297" stroke="#555" stroke-width="1"/>
<rect x="938.5" y="251.5" width="4" height="29.0" fill="#e57373" stroke="#7f1010" stroke-width="1"/>
<path d="M947.5 251V273" stroke="#555" stroke-width="1"/>
<rect x="945.5" y="259.5" width="4" height="13.0" fill="#4caf50" stroke="#1b5e20" stroke-width="1"/>
<path d="M954.5 259V273" stroke="#555" stroke-width="1"/>
<rect x="952.5" y="259.5" width="4" height="8.0" fill="#4caf50" stroke="#1b5e20" stroke-width="1"/>
<path d="M961.5 259V273" stroke="#555" stroke-width="1"/>
<rect x="959.5" y="259.5" width="4" height="13.0" fill="#e57373" stroke="#7f1010" stroke-width="1"/>
<path d="M968.5 267V277" stroke="#555" stroke-width="1"/>
<rect x="966.5" y="267.5" width="4" height="5.0" fill="#4caf50" stroke="#1b5e20" stroke-width="1"/>
<path d="M975.5 267V277" stroke="#555" stroke-width="1"/>
<rect x="973.5" y="267.5" width="4" height="5.0" fill="#4caf50" stroke="#1b5e20" stroke-width="1"/>
<path d="M982.5 263V273" stroke="#555" stroke-width="1"/>
<rect x="980.5" y="263.5" width="4" height="4.0" fill="#4caf50" stroke="#1b5e20" stroke-width="1"/>
<path d="M217.29999999999998 483.3H221.9V509.29999999999995H224.2L219.6 513.8L215.0 509.29999999999995H217.29999999999998Z" fill="#ff0000" stroke="#b71c1c" stroke-width="0.6"/>
<path d="M556.4000000000001 518.2H561.0V493.7H563.3000000000001L558.7 487.7L554.1 493.7H556.4000000000001Z" fill="#00ff00" stroke="#0a8f0a" stroke-width="0.6"/>
<path d="M3.6 78.6L9.4 78.6L6.5 83.8ZM11.6 78.6L17.4 78.6L14.5 83.8ZM18.6 78.6L24.4 78.6L21.5 83.8ZM25.6 78.6L31.4 78.6L28.5 83.8ZM32.6 78.6L38.4 78.6L35.5 83.8ZM39.6 78.6L45.4 78.6L42.5 83.8ZM117.6 78.6L123.4 78.6L120.5 83.8ZM124.6 78.6L130.4 78.6L127.5 83.8ZM131.6 78.6L137.4 78.6L134.5 83.8ZM138.6 78.6L144.4 78.6L141.5 83.8ZM145.6 78.6L151.4 78.6L148.5 83.8ZM152.6 78.6L158.4 78.6L155.5 83.8ZM159.6 78.6L165.4 78.6L162.5 83.8ZM166.6 78.6L172.4 78.6L169.5 83.8ZM173.6 78.6L179.4 78.6L176.5 83.8ZM180.6 78.6L186.4 78.6L183.5 83.8ZM187.6 78.6L193.4 78.6L190.5 83.8ZM194.6 78.6L200.4 78.6L197.5 83.8ZM201.6 78.6L207.4 78.6L204.5 83.8ZM209.6 78.6L215.4 78.6L212.5 83.8ZM216.6 78.6L222.4 78.6L219.5 83.8ZM223.6 78.6L229.4 78.6L226.5 83.8ZM230.6 78.6L236.4 78.6L233.5 83.8ZM237.6 78.6L243.4 78.6L240.5 83.8ZM244.6 78.6L250.4 78.6L247.5 83.8ZM251.6 78.6L257.4 78.6L254.5 83.8ZM258.6 78.6L264.4 78.6L261.5 83.8ZM265.6 78.6L271.4 78.6L268.5 83.8ZM272.6 78.6L278.4 78.6L275.5 83.8ZM279.6 78.6L285.4 78.6L282.5 83.8ZM286.6 78.6L292.4 78.6L289.5 83.8ZM293.6 78.6L299.4 78.6L296.5 83.8ZM300.6 78.6L306.4 78.6L303.5 83.8ZM308.6 78.6L314.4 78.6L311.5 83.8ZM315.6 78.6L321.4 78.6L318.5 83.8ZM322.6 78.6L328.4 78.6L325.5 83.8ZM329.6 78.6L335.4 78.6L332.5 83.8ZM336.6 78.6L342.4 78.6L339.5 83.8ZM343.6 78.6L349.4 78.6L346.5 83.8ZM350.6 78.6L356.4 78.6L353.5 83.8ZM357.6 78.6L363.4 78.6L360.5 83.8ZM364.6 78.6L370.4 78.6L367.5 83.8ZM371.6 78.6L377.4 78.6L374.5 83.8ZM378.6 78.6L384.4 78.6L381.5 83.8Z" fill="#ff0000"/>
<path d="M46.6 609L52.4 609L49.5 603.6ZM53.6 609L59.4 609L56.5 603.6ZM60.6 609L66.4 609L63.5 603.6ZM67.6 609L73.4 609L70.5 603.6ZM74.6 609L80.4 609L77.5 603.6ZM81.6 609L87.4 609L84.5 603.6ZM88.6 609L94.4 609L91.5 603.6ZM95.6 609L101.4 609L98.5 603.6ZM102.6 609L108.4 609L105.5 603.6ZM110.6 609L116.4 609L113.5 603.6ZM385.6 609L391.4 609L388.5 603.6ZM392.6 609L398.4 609L395.5 603.6ZM399.6 609L405.4 609L402.5 603.6ZM407.6 609L413.4 609L410.5 603.6ZM414.6 609L420.4 609L417.5 603.6ZM421.6 609L427.4 609L424.5 603.6ZM428.6 609L434.4 609L431.5 603.6ZM435.6 609L441.4 609L438.5 603.6ZM442.6 609L448.4 609L445.5 603.6ZM449.6 609L455.4 609L452.5 603.6ZM456.6 609L462.4 609L459.5 603.6ZM463.6 609L469.4 609L466.5 603.6ZM470.6 609L476.4 609L473.5 603.6ZM477.6 609L483.4 609L480.5 603.6ZM484.6 609L490.4 609L487.5 603.6ZM491.6 609L497.4 609L494.5 603.6ZM498.6 609L504.4 609L501.5 603.6ZM506.6 609L512.4 609L509.5 603.6ZM513.6 609L519.4 609L516.5 603.6ZM520.6 609L526.4 609L523.5 603.6ZM527.6 609L533.4 609L530.5 603.6ZM534.6 609L540.4 609L537.5 603.6ZM541.6 609L547.4 609L544.5 603.6ZM548.6 609L554.4 609L551.5 603.6ZM555.6 609L561.4 609L558.5 603.6ZM562.6 609L568.4 609L565.5 603.6ZM569.6 609L575.4 609L572.5 603.6ZM576.6 609L582.4 609L579.5 603.6ZM583.6 609L589.4 609L586.5 603.6ZM590.6 609L596.4 609L593.5 603.6ZM597.6 609L603.4 609L600.5 603.6ZM605.6 609L611.4 609L608.5 603.6ZM612.6 609L618.4 609L615.5 603.6ZM619.6 609L625.4 609L622.5 603.6ZM626.6 609L632.4 609L629.5 603.6ZM633.6 609L639.4 609L636.5 603.6ZM640.6 609L646.4 609L643.5 603.6ZM647.6 609L653.4 609L650.5 603.6ZM654.6 609L660.4 609L657.5 603.6ZM661.6 609L667.4 609L664.5 603.6ZM668.6 609L674.4 609L671.5 603.6ZM675.6 609L681.4 609L678.5 603.6ZM682.6 609L688.4 609L685.5 603.6ZM689.6 609L695.4 609L692.5 603.6ZM696.6 609L702.4 609L699.5 603.6ZM704.6 609L710.4 609L707.5 603.6ZM711.6 609L717.4 609L714.5 603.6ZM718.6 609L724.4 609L721.5 603.6ZM725.6 609L731.4 609L728.5 603.6ZM732.6 609L738.4 609L735.5 603.6ZM739.6 609L745.4 609L742.5 603.6ZM746.6 609L752.4 609L749.5 603.6ZM753.6 609L759.4 609L756.5 603.6ZM760.6 609L766.4 609L763.5 603.6ZM767.6 609L773.4 609L770.5 603.6ZM774.6 609L780.4 609L777.5 603.6ZM781.6 609L787.4 609L784.5 603.6ZM788.6 609L794.4 609L791.5 603.6ZM795.6 609L801.4 609L798.5 603.6ZM803.6 609L809.4 609L806.5 603.6ZM810.6 609L816.4 609L813.5 603.6ZM817.6 609L823.4 609L820.5 603.6ZM824.6 609L830.4 609L827.5 603.6ZM831.6 609L837.4 609L834.5 603.6ZM838.6 609L844.4 609L841.5 603.6ZM845.6 609L851.4 609L848.5 603.6ZM852.6 609L858.4 609L855.5 603.6ZM859.6 609L865.4 609L862.5 603.6ZM866.6 609L872.4 609L869.5 603.6ZM873.6 609L879.4 609L876.5 603.6ZM880.6 609L886.4 609L883.5 603.6ZM887.6 609L893.4 609L890.5 603.6ZM894.6 609L900.4 609L897.5 603.6ZM902.6 609L908.4 609L905.5 603.6ZM909.6 609L915.4 609L912.5 603.6ZM916.6 609L922.4 609L919.5 603.6ZM923.6 609L929.4 609L926.5 603.6ZM930.6 609L936.4 609L933.5 603.6ZM937.6 609L943.4 609L940.5 603.6ZM944.6 609L950.4 609L947.5 603.6ZM951.6 609L957.4 609L954.5 603.6ZM958.6 609L964.4 609L961.5 603.6ZM965.6 609L971.4 609L968.5 603.6ZM972.6 609L978.4 609L975.5 603.6ZM979.6 609L985.4 609L982.5 603.6Z" fill="#00ee00"/>
<circle cx="304.4" cy="626.8" r="12.3" fill="#fff" fill-opacity="0.6" stroke="#f0737f" stroke-width="1.2"/>
<text x="304.4" y="630.8" font-size="11.5" fill="#e8596a" text-anchor="middle" textLength="6.2" lengthAdjust="spacingAndGlyphs">E</text>
<circle cx="339.9" cy="626.8" r="12.3" fill="#fff" fill-opacity="0.6" stroke="#2196f3" stroke-width="1.2"/>
<text x="339.9" y="630.8" font-size="11.5" fill="#2196f3" text-anchor="middle" textLength="7" lengthAdjust="spacingAndGlyphs">D</text>
<path d="M1138 114H1537M968 262H1537M1018 480H1537" stroke="#000" stroke-width="2" fill="none"/>
<text x="1198.3" y="107.7" font-size="19.5" fill="#111" textLength="30.8" lengthAdjust="spacingAndGlyphs">19%</text>
</g>
<g clip-path="url(#c2)">
<rect x="13" y="727.2" width="2" height="3.3" fill="#86e086"/>
<rect x="20" y="725.9" width="2" height="4.6" fill="#86e086"/>
<rect x="27" y="724.6" width="2" height="5.9" fill="#86e086"/>
<rect x="34" y="723.4" width="2" height="7.1" fill="#86e086"/>
<rect x="41" y="722.1" width="2" height="8.4" fill="#86e086"/>
<rect x="48" y="722.9" width="2" height="7.6" fill="#57a057"/>
<rect x="55" y="724.1" width="2" height="6.4" fill="#57a057"/>
<rect x="62" y="725.9" width="2" height="4.6" fill="#57a057"/>
<rect x="69" y="727.7" width="2" height="2.8" fill="#57a057"/>
<rect x="76" y="728.9" width="2" height="1.6" fill="#57a057"/>
<rect x="83" y="730.5" width="2" height="2.2" fill="#ff6e6e"/>
<rect x="90" y="730.5" width="2" height="4.3" fill="#ff6e6e"/>
<rect x="97" y="730.5" width="2" height="5.5" fill="#ff6e6e"/>
<rect x="104" y="730.5" width="2" height="8" fill="#ff6e6e"/>
<rect x="112" y="730.5" width="2" height="11.1" fill="#ff6e6e"/>
<rect x="119" y="730.5" width="2" height="15.1" fill="#ff6e6e"/>
<rect x="126" y="730.5" width="2" height="15.6" fill="#ff6e6e"/>
<rect x="133" y="730.5" width="2" height="16.1" fill="#ff6e6e"/>
<rect x="140" y="730.5" width="2" height="16.1" fill="#b86464"/>
<rect x="147" y="730.5" width="2" height="13.1" fill="#b86464"/>
<rect x="154" y="730.5" width="2" height="10.6" fill="#b86464"/>
<rect x="161" y="730.5" width="2" height="8.6" fill="#b86464"/>
<rect x="168" y="730.5" width="2" height="6.8" fill="#b86464"/>
<rect x="175" y="730.5" width="2" height="5.5" fill="#b86464"/>
<rect x="182" y="730.5" width="2" height="5" fill="#b86464"/>
<rect x="189" y="730.5" width="2" height="3" fill="#b86464"/>
<rect x="196" y="730.5" width="2" height="1" fill="#b86464"/>
<rect x="203" y="729.2" width="2" height="1.3" fill="#86e086"/>
<rect x="211" y="727.2" width="2" height="3.3" fill="#86e086"/>
<rect x="218" y="725.2" width="2" height="5.3" fill="#86e086"/>
<rect x="225" y="726.2" width="2" height="4.3" fill="#57a057"/>
<rect x="232" y="727.2" width="2" height="3.3" fill="#57a057"/>
<rect x="239" y="729.5" width="2" height="1" fill="#57a057"/>
<rect x="246" y="728.9" width="2" height="1.6" fill="#86e086"/>
<rect x="260" y="730.5" width="2" height="2" fill="#ff6e6e"/>
<rect x="267" y="730.5" width="2" height="1.2" fill="#b86464"/>
<rect x="274" y="730.5" width="2" height="2" fill="#ff6e6e"/>
<rect x="281" y="730.5" width="2" height="2.5" fill="#ff6e6e"/>
<rect x="288" y="730.5" width="2" height="1" fill="#b86464"/>
<rect x="295" y="728.9" width="2" height="1.6" fill="#86e086"/>
<rect x="302" y="722.9" width="2" height="7.6" fill="#86e086"/>
<rect x="310" y="719.1" width="2" height="11.4" fill="#86e086"/>
<rect x="317" y="716.1" width="2" height="14.4" fill="#86e086"/>
<rect x="324" y="715.8" width="2" height="14.7" fill="#86e086"/>
<rect x="331" y="718.1" width="2" height="12.4" fill="#57a057"/>
<rect x="338" y="720.9" width="2" height="9.6" fill="#57a057"/>
<rect x="345" y="720.9" width="2" height="9.6" fill="#57a057"/>
<rect x="352" y="721.4" width="2" height="9.1" fill="#57a057"/>
<rect x="359" y="722.1" width="2" height="8.4" fill="#57a057"/>
<rect x="366" y="722.6" width="2" height="7.9" fill="#57a057"/>
<rect x="373" y="722.9" width="2" height="7.6" fill="#57a057"/>
<rect x="380" y="720.4" width="2" height="10.1" fill="#86e086"/>
<rect x="387" y="718.3" width="2" height="12.2" fill="#86e086"/>
<rect x="394" y="716.6" width="2" height="13.9" fill="#86e086"/>
<rect x="401" y="714" width="2" height="16.5" fill="#86e086"/>
<rect x="409" y="714" width="2" height="16.5" fill="#86e086"/>
<rect x="416" y="715.8" width="2" height="14.7" fill="#57a057"/>
<rect x="423" y="717.1" width="2" height="13.4" fill="#57a057"/>
<rect x="430" y="717.1" width="2" height="13.4" fill="#57a057"/>
<rect x="437" y="717.8" width="2" height="12.7" fill="#57a057"/>
<rect x="444" y="719.1" width="2" height="11.4" fill="#57a057"/>
<rect x="451" y="722.1" width="2" height="8.4" fill="#57a057"/>
<rect x="458" y="727.2" width="2" height="3.3" fill="#57a057"/>
<rect x="465" y="730.5" width="2" height="1" fill="#ff6e6e"/>
<rect x="472" y="730.5" width="2" height="3" fill="#ff6e6e"/>
<rect x="479" y="730.5" width="2" height="5" fill="#ff6e6e"/>
<rect x="486" y="730.5" width="2" height="5.5" fill="#ff6e6e"/>
<rect x="493" y="730.5" width="2" height="7.3" fill="#ff6e6e"/>
<rect x="500" y="730.5" width="2" height="8" fill="#ff6e6e"/>
<rect x="508" y="730.5" width="2" height="9.3" fill="#ff6e6e"/>
<rect x="515" y="730.5" width="2" height="11.1" fill="#ff6e6e"/>
<rect x="522" y="730.5" width="2" height="16.1" fill="#ff6e6e"/>
<rect x="529" y="730.5" width="2" height="16.4" fill="#ff6e6e"/>
<rect x="536" y="730.5" width="2" height="17.4" fill="#ff6e6e"/>
<rect x="543" y="730.5" width="2" height="17.4" fill="#b86464"/>
<rect x="550" y="730.5" width="2" height="15.1" fill="#b86464"/>
<rect x="557" y="730.5" width="2" height="11.1" fill="#b86464"/>
<rect x="564" y="730.5" width="2" height="5" fill="#b86464"/>
<rect x="571" y="730.5" width="2" height="3" fill="#b86464"/>
<rect x="578" y="730.5" width="2" height="2" fill="#b86464"/>
<rect x="585" y="730.5" width="2" height="1" fill="#b86464"/>
<rect x="592" y="730.5" width="2" height="1" fill="#b86464"/>
<rect x="607" y="728.4" width="2" height="2.1" fill="#86e086"/>
<rect x="614" y="726.4" width="2" height="4.1" fill="#86e086"/>
<rect x="621" y="725.9" width="2" height="4.6" fill="#86e086"/>
<rect x="628" y="724.1" width="2" height="6.4" fill="#86e086"/>
<rect x="635" y="722.9" width="2" height="7.6" fill="#86e086"/>
<rect x="642" y="722.9" width="2" height="7.6" fill="#86e086"/>
<rect x="649" y="724.1" width="2" height="6.4" fill="#57a057"/>
<rect x="656" y="725.2" width="2" height="5.3" fill="#57a057"/>
<rect x="663" y="722.9" width="2" height="7.6" fill="#86e086"/>
<rect x="670" y="720.9" width="2" height="9.6" fill="#86e086"/>
<rect x="677" y="717.1" width="2" height="13.4" fill="#86e086"/>
<rect x="684" y="712" width="2" height="18.5" fill="#86e086"/>
<rect x="691" y="711.3" width="2" height="19.2" fill="#86e086"/>
<rect x="698" y="712" width="2" height="18.5" fill="#57a057"/>
<rect x="706" y="715" width="2" height="15.5" fill="#57a057"/>
<rect x="713" y="718.3" width="2" height="12.2" fill="#57a057"/>
<rect x="720" y="720.1" width="2" height="10.4" fill="#57a057"/>
<rect x="727" y="720.1" width="2" height="10.4" fill="#86e086"/>
<rect x="734" y="718.1" width="2" height="12.4" fill="#86e086"/>
<rect x="741" y="719.1" width="2" height="11.4" fill="#57a057"/>
<rect x="748" y="720.1" width="2" height="10.4" fill="#57a057"/>
<rect x="755" y="721.1" width="2" height="9.4" fill="#57a057"/>
<rect x="762" y="724.1" width="2" height="6.4" fill="#57a057"/>
<rect x="769" y="727.9" width="2" height="2.6" fill="#57a057"/>
<rect x="776" y="728.9" width="2" height="1.6" fill="#57a057"/>
<rect x="783" y="728.9" width="2" height="1.6" fill="#86e086"/>
<rect x="790" y="730.5" width="2" height="1.5" fill="#ff6e6e"/>
<rect x="797" y="730.5" width="2" height="1" fill="#b86464"/>
<rect x="805" y="730.5" width="2" height="1" fill="#b86464"/>
<rect x="812" y="730.5" width="2" height="1.5" fill="#ff6e6e"/>
<rect x="819" y="730.5" width="2" height="4.8" fill="#ff6e6e"/>
<rect x="826" y="730.5" width="2" height="1.7" fill="#b86464"/>
<rect x="833" y="730.5" width="2" height="1.7" fill="#b86464"/>
<rect x="840" y="730.5" width="2" height="1.7" fill="#b86464"/>
<rect x="847" y="730.5" width="2" height="1.7" fill="#b86464"/>
<rect x="854" y="730.5" width="2" height="1.7" fill="#b86464"/>
<rect x="861" y="730.5" width="2" height="1.7" fill="#b86464"/>
<rect x="868" y="730.5" width="2" height="0.5" fill="#b86464"/>
<rect x="875" y="726.4" width="2" height="4.1" fill="#86e086"/>
<rect x="882" y="721.4" width="2" height="9.1" fill="#86e086"/>
<rect x="889" y="719.3" width="2" height="11.2" fill="#86e086"/>
<rect x="896" y="720.4" width="2" height="10.1" fill="#57a057"/>
<rect x="904" y="719.3" width="2" height="11.2" fill="#86e086"/>
<rect x="911" y="719.3" width="2" height="11.2" fill="#86e086"/>
<rect x="918" y="719.3" width="2" height="11.2" fill="#86e086"/>
<rect x="925" y="721.4" width="2" height="9.1" fill="#57a057"/>
<rect x="932" y="723.4" width="2" height="7.1" fill="#57a057"/>
<rect x="939" y="729.7" width="2" height="0.8" fill="#57a057"/>
<rect x="946" y="730.5" width="2" height="1" fill="#ff6e6e"/>
<rect x="953" y="730.5" width="2" height="3" fill="#ff6e6e"/>
<rect x="960" y="730.5" width="2" height="6.8" fill="#ff6e6e"/>
<rect x="967" y="730.5" width="2" height="8.8" fill="#ff6e6e"/>
<rect x="974" y="730.5" width="2" height="9.8" fill="#ff6e6e"/>
<rect x="981" y="730.5" width="2" height="10.1" fill="#ff6e6e"/>
<path d="M7 730.5H983.5" stroke="#555" stroke-width="1"/>
<polyline points="7.1,724.6 17.7,722.9 28.3,720.4 39.2,717.6 49.8,715 60.6,713.5 71.3,713 80.9,713.3 91,714.3 101.1,715.8 111.2,718.8 121.3,723.4 131.4,728.9 141.5,734.8 151.6,739.8 161.7,743.6 173.1,746.6 183.7,748.7 194.6,749.7 205.2,749.4 216,748.1 226.7,746.6 240.8,745.6 255.2,745.6 269.1,746.1 283.5,747.4 290.6,748.7 297.7,748.1 304.7,746.1 311.8,742.3 318.9,738.5 326,734.8 333,731.5 340.1,728.9 347.4,726.4 354.5,724.6 361.6,722.9 368.9,721.4 375.2,720.1 386.6,715.8 390,715.3 403.1,707 417.3,699.4 431.4,692.6 445.6,687.5 459.7,685.5 473.9,686.7 488,689.3 502.2,693.1 516.3,698.1 530.5,705.7 544.6,714.5 558.8,720.9 572.9,722.9 587.1,723.9 601.2,723.9 615.4,722.1 629.5,719.1 643.7,715.8 657.8,713.3 671.2,709.5 685.4,701.9 699.5,693.1 713.7,686.7 727.8,681.2 742,675.4 756.1,670.8 770.3,668.3 784.4,667.8 792.4,668.6 806.3,669.6 820.4,671.6 834.6,673.6 848.5,675.4 862.6,677.4 869.7,677.9 876.8,676.6 883.6,674.1 897.8,668.6 911.9,663.2 926.1,658.4 932.9,656.7 939.9,656.7 947,657.2 954.1,657.7 961.2,659.5 968.3,662 975.1,664.5 983.4,667.3" fill="none" stroke="#f57c00" stroke-width="1.1"/>
<polyline points="7.1,724.1 17.7,719.6 28.3,714.5 39.2,710 49.8,708.2 60.6,708.7 71.3,710.8 80.9,713.8 91,717.8 99.8,721.4 108.7,728.4 118.8,737.3 128.9,745.6 140.2,751.2 151.6,752.4 162.5,753.5 173.1,753 183.7,753.5 194.6,752.4 205.2,749.2 216,743.6 226.7,741.8 233.7,742.8 240.8,745.4 247.6,744.9 255.2,746.1 262.3,747.9 269.1,747.4 276.2,748.7 283.5,750.4 290.6,749.2 297.7,746.1 304.7,738.5 311.8,730.5 318.9,724.6 326,722.1 333,720.9 340.1,721.4 347.4,719.6 354.5,717.8 361.6,716.6 368.9,715 375.2,714.3 386.6,705.2 390,703.2 396.1,696.9 403.1,691.8 410.2,687.5 417.3,686.2 424.4,683.5 431.4,680.4 438.5,678.4 445.6,677.4 452.7,677.9 459.7,682.5 466.8,686.2 473.9,689.8 481,693.1 488,694.6 495.1,697.6 502.2,701.1 509.3,704.4 516.3,709 523.4,717.8 530.5,722.1 537.6,726.7 544.6,731 551.7,733.5 558.8,732.2 565.9,727.2 572.9,726.4 580,725.9 587.1,725.4 594.2,724.9 601.2,723.6 608.3,721.4 615.4,718.8 622.5,717.1 629.5,714.3 636.6,711.5 643.7,709.5 650.8,709 657.8,708.7 664.9,705.7 671.2,701.4 678.3,693.8 685.4,684.2 692.5,678.4 699.5,675.4 706.6,674.9 713.7,674.4 720.8,673.6 727.8,670.8 734.9,666.5 742,664 749.1,662.7 756.1,661.5 763.2,663.5 770.3,666 777.4,667.3 784.4,666.8 792.4,670.8 799.2,670.8 806.3,670.8 813.4,672.3 820.4,675.9 827.5,676.9 834.6,677.1 841.4,677.4 848.5,678.4 855.6,679.9 862.6,681.2 869.7,678.4 876.8,672.3 883.6,665.3 890.7,661 897.8,658.4 904.8,655.7 911.9,652.6 919,649.6 926.1,649.1 932.9,649.6 939.9,656.4 947,659 954.1,661.5 961.2,666.5 968.3,670.8 975.1,674.6 983.4,677.9" fill="none" stroke="#1f8ff5" stroke-width="1.9" stroke-linejoin="round"/>
<circle cx="49.5" cy="708.2" r="2.3" fill="#f00"/>
<circle cx="162.5" cy="753.5" r="2.3" fill="#3fc83f"/>
<circle cx="226.5" cy="742.3" r="2.3" fill="#f00"/>
<circle cx="282.5" cy="751.2" r="2.3" fill="#3fc83f"/>
<circle cx="445.5" cy="677.4" r="2.3" fill="#f00"/>
<circle cx="551.5" cy="733.5" r="2.3" fill="#3fc83f"/>
<circle cx="756.5" cy="661.5" r="2.3" fill="#f00"/>
<circle cx="862.5" cy="681.2" r="2.3" fill="#3fc83f"/>
<circle cx="926.5" cy="649.3" r="2.3" fill="#f00"/>
<rect x="276.3" y="733" width="12.8" height="15.8" rx="2.6" fill="#0a7a0a"/><path d="M281.2 748L282.7 754L284.2 748Z" fill="#3fc83f"/>
<text x="282.7" y="745.2" font-size="12" font-weight="bold" fill="#f6e4e4" text-anchor="middle" textLength="7.4" lengthAdjust="spacingAndGlyphs">D</text>
<rect x="792.6" y="733" width="12.8" height="15.8" rx="2.6" fill="#7a0000"/><path d="M797 733.5L799 731L801 733.5Z" fill="#7a0000"/>
<rect x="799.6" y="733" width="12.8" height="15.8" rx="2.6" fill="#7a0000"/><path d="M804 733.5L806 731L808 733.5Z" fill="#7a0000"/>
<rect x="820.9" y="733" width="12.8" height="15.8" rx="2.6" fill="#7a0000"/><path d="M825.3 733.5L827.3 731L829.3 733.5Z" fill="#7a0000"/>
<rect x="827.9" y="733" width="12.8" height="15.8" rx="2.6" fill="#7a0000"/><path d="M832.3 733.5L834.3 731L836.3 733.5Z" fill="#7a0000"/>
<rect x="835" y="733" width="12.8" height="15.8" rx="2.6" fill="#7a0000"/><path d="M839.4 733.5L841.4 731L843.4 733.5Z" fill="#7a0000"/>
<rect x="842.1" y="733" width="12.8" height="15.8" rx="2.6" fill="#7a0000"/><path d="M846.5 733.5L848.5 731L850.5 733.5Z" fill="#7a0000"/>
<rect x="856.2" y="733" width="12.8" height="15.8" rx="2.6" fill="#7a0000"/><path d="M860.6 733.5L862.6 731L864.6 733.5Z" fill="#7a0000"/>
<text x="799" y="745.2" font-size="12" font-weight="bold" fill="#f6e4e4" text-anchor="middle" textLength="7.4" lengthAdjust="spacingAndGlyphs">D</text>
<text x="806" y="745.2" font-size="12" font-weight="bold" fill="#f6e4e4" text-anchor="middle" textLength="7.4" lengthAdjust="spacingAndGlyphs">D</text>
<text x="827.3" y="745.2" font-size="12" font-weight="bold" fill="#f6e4e4" text-anchor="middle" textLength="7.4" lengthAdjust="spacingAndGlyphs">D</text>
<text x="834.3" y="745.2" font-size="12" font-weight="bold" fill="#f6e4e4" text-anchor="middle" textLength="7.4" lengthAdjust="spacingAndGlyphs">D</text>
<text x="841.4" y="745.2" font-size="12" font-weight="bold" fill="#f6e4e4" text-anchor="middle" textLength="7.4" lengthAdjust="spacingAndGlyphs">D</text>
<text x="848.5" y="745.2" font-size="12" font-weight="bold" fill="#f6e4e4" text-anchor="middle" textLength="7.4" lengthAdjust="spacingAndGlyphs">D</text>
<text x="862.6" y="745.2" font-size="12" font-weight="bold" fill="#f6e4e4" text-anchor="middle" textLength="7.4" lengthAdjust="spacingAndGlyphs">D</text>
</g>
<g clip-path="url(#c3)">
<path d="M7 788.3H982.5" stroke="#5f8aa6" stroke-width="1" fill="none"/>
<path d="M7 846.0H982.5" stroke="#8fb4c9" stroke-width="1.6" fill="none"/>
<path d="M6.5 817.4H983.5" stroke="#ffacac" stroke-width="2.8" stroke-dasharray="0.01 7.0615000000000006" stroke-linecap="round" fill="none"/>
<polyline points="6.5,805.5 14.5,805.5 21.5,795.4 28.5,792.1 35.5,797.9 42.5,792.1 49.5,797.7 56.5,797.7 63.5,803 70.5,803 77.5,808.5 84.5,808.5 91.5,819.4 98.5,823.7 105.5,823.7 113.5,828.3 120.5,847.2 127.5,847.2 134.5,849.7 141.5,844.2 148.5,844.2 155.5,837.6 162.5,843.7 169.5,843.7 176.5,843.7 183.5,843.7 190.5,843.7 197.5,843.7 204.5,835.3 212.5,821.2 219.5,821.2 226.5,827 233.5,832 240.5,843.4 247.5,836.6 254.5,830.8 261.5,841.4 268.5,835.1 275.5,835.1 282.5,839.1 289.5,839.1 296.5,827 303.5,794.6 311.5,790.3 318.5,790.3 325.5,803 332.5,803 339.5,810.8 346.5,805 353.5,805 360.5,802 367.5,802 374.5,802 381.5,789.1 388.5,784 395.5,781.5 402.5,777.7 410.5,776.4 417.5,776.4 424.5,776.4 431.5,769.4 438.5,779.5 445.5,779.5 452.5,777.7 459.5,789.1 466.5,801.7 473.5,805.5 480.5,803 487.5,803 494.5,799.7 501.5,804.8 509.5,816.9 516.5,813.1 523.5,824 530.5,829 537.5,829 544.5,832 551.5,827.7 558.5,819.9 565.5,801.7 572.5,805.5 579.5,812.3 586.5,815.6 593.5,815.6 600.5,809.3 608.5,809.3 615.5,803.5 622.5,803.5 629.5,797.9 636.5,790.9 643.5,790.9 650.5,799.7 657.5,804.2 664.5,794.1 671.5,789.1 678.5,781 685.5,773.4 692.5,773.4 699.5,777.7 707.5,785.3 714.5,792.9 721.5,786.6 728.5,784.8 735.5,773.9 742.5,780.2 749.5,781 756.5,786.6 763.5,786.6 770.5,793.4 777.5,796.9 784.5,790.6 791.5,790.9 798.5,794.1 806.5,790.9 813.5,790.9 820.5,790.9 827.5,794.6 834.5,790.9 841.5,790.9 848.5,790.9 855.5,788.6 862.5,788.6 869.5,779 876.5,771.4 883.5,767.6 890.5,771.4 897.5,776.4 905.5,773.9 912.5,770.9 919.5,769.9 926.5,766.3 933.5,782.3 940.5,785.8 947.5,785.8 954.5,793.4 961.5,793.4 968.5,801 975.5,801 982.5,798.4" fill="none" stroke="#ff44ff" stroke-width="2.1" stroke-linejoin="round" stroke-opacity="0.95"/>
<polygon points="381.5,788.3 388.5,774.2 452.5,774.2 459.5,788.3" fill="#ffff00" fill-opacity="0.6" stroke="#9e9e9e" stroke-width="0.5"/>
<polygon points="664.5,788.3 671.5,774.2 707.5,774.2 714.5,788.3" fill="#ffff00" fill-opacity="0.6" stroke="#9e9e9e" stroke-width="0.5"/>
<polygon points="714.5,788.3 721.5,774.2 763.5,774.2 770.5,788.3" fill="#ffff00" fill-opacity="0.6" stroke="#9e9e9e" stroke-width="0.5"/>
<polygon points="848.5,788.3 855.5,774.2 947.5,774.2 954.5,788.3" fill="#ffff00" fill-opacity="0.6" stroke="#9e9e9e" stroke-width="0.5"/>
<polygon points="113.5,846.0 141.5,846.0 134.5,860.3 120.5,860.3" fill="#0000ff" fill-opacity="0.6"/>
</g>
<path d="M7 642.5H1583M7 760.5H1583M7 866.5H1583M1537.5 44V893" stroke="#4f4f4f" stroke-width="1" fill="none"/>
<text x="1546" y="611.6" font-size="11" fill="#555">1.00</text>
<text x="1546" y="571.1" font-size="11" fill="#555">1.10</text>
<text x="1546" y="530.6" font-size="11" fill="#555">1.20</text>
<text x="1546" y="490.1" font-size="11" fill="#555">1.30</text>
<text x="1546" y="449.6" font-size="11" fill="#555">1.40</text>
<text x="1546" y="409" font-size="11" fill="#555">1.50</text>
<text x="1546" y="368.5" font-size="11" fill="#555">1.60</text>
<text x="1546" y="328" font-size="11" fill="#555">1.70</text>
<text x="1546" y="287.5" font-size="11" fill="#555">1.80</text>
<text x="1546" y="247" font-size="11" fill="#555">1.90</text>
<text x="1546" y="206.4" font-size="11" fill="#555">2.00</text>
<text x="1546" y="165.9" font-size="11" fill="#555">2.10</text>
<text x="1546" y="125.4" font-size="11" fill="#555">2.20</text>
<text x="1546" y="84.9" font-size="11" fill="#555">2.30</text>
<text x="1546" y="682.7" font-size="11" fill="#555">0.1</text>
<text x="1546" y="733.7" font-size="11" fill="#555">0.0</text>
<text x="1546" y="777.7" font-size="11" fill="#555">80.00</text>
<text x="1546" y="805.9" font-size="11" fill="#555">60.00</text>
<text x="1546" y="835" font-size="11" fill="#555">40.00</text>
<text x="1546" y="863.8" font-size="11" fill="#555">20.00</text>
<path d="M1538 608.5h4M1538 568.5h4M1538 527.5h4M1538 487.5h4M1538 446.5h4M1538 406.5h4M1538 365.5h4M1538 324.5h4M1538 284.5h4M1538 243.5h4M1538 203.5h4M1538 162.5h4M1538 122.5h4M1538 81.5h4M1538 679.5h4M1538 730.5h4M1538 774.5h4M1538 802.5h4M1538 832.5h4M1538 860.5h4" stroke="#4f4f4f" stroke-width="1"/>
<rect x="1502" y="223" width="74" height="17" fill="#e3f0fc"/><path d="M1538 232.5h4" stroke="#444" stroke-width="1"/><text x="1531" y="235" font-size="11" fill="#444" text-anchor="end" textLength="21" lengthAdjust="spacingAndGlyphs">High</text><text x="1546" y="235" font-size="11" fill="#444">1.93</text>
<rect x="1506.7" y="427" width="69.3" height="17" fill="#e3f0fc"/><path d="M1538 436.5h4" stroke="#444" stroke-width="1"/><text x="1531" y="439" font-size="11" fill="#444" text-anchor="end" textLength="16.3" lengthAdjust="spacingAndGlyphs">Avg</text><text x="1546" y="439" font-size="11" fill="#444">1.43</text>
<rect x="1504.3" y="539" width="71.7" height="17" fill="#e3f0fc"/><path d="M1538 548.5h4" stroke="#444" stroke-width="1"/><text x="1531" y="551" font-size="11" fill="#444" text-anchor="end" textLength="18.7" lengthAdjust="spacingAndGlyphs">Low</text><text x="1546" y="551" font-size="11" fill="#444">1.15</text>
<rect x="1537.5" y="105.9" width="38.5" height="17" fill="#000"/><path d="M1538 114.5h4" stroke="#fff" stroke-width="1"/><text x="1546" y="117.9" font-size="11" fill="#fff" font-weight="bold">2.22</text>
<rect x="1537.5" y="254" width="38.5" height="17" fill="#000"/><path d="M1538 262.5h4" stroke="#fff" stroke-width="1"/><text x="1546" y="266" font-size="11" fill="#fff" font-weight="bold">1.85</text>
<rect x="1537.5" y="271" width="38.5" height="17" fill="#4caf50"/><path d="M1538 280.5h4" stroke="#fff" stroke-width="1"/><text x="1546" y="283" font-size="11" fill="#fff" font-weight="bold">1.85</text>
<rect x="1537.5" y="472" width="38.5" height="17" fill="#000"/><path d="M1538 480.5h4" stroke="#fff" stroke-width="1"/><text x="1546" y="484" font-size="11" fill="#fff" font-weight="bold">1.32</text>
<rect x="1546.5" y="50.5" width="27" height="18" rx="3" fill="#fff" stroke="#d6daea" stroke-width="1"/>
<text x="1560" y="63" font-size="10" fill="#555" text-anchor="middle">NZD</text>
<g clip-path="url(#ct)">
<text x="70.5" y="885.2" font-size="11" fill="#555" text-anchor="middle" textLength="18.4" lengthAdjust="spacingAndGlyphs">Aug</text>
<text x="219.5" y="885.2" font-size="11" fill="#555" text-anchor="middle" textLength="18.4" lengthAdjust="spacingAndGlyphs">Sep</text>
<text x="296.5" y="885.2" font-size="11" fill="#555" text-anchor="middle" textLength="10.8" lengthAdjust="spacingAndGlyphs">16</text>
<text x="374.5" y="885.2" font-size="11" fill="#555" text-anchor="middle" textLength="16.1" lengthAdjust="spacingAndGlyphs">Oct</text>
<text x="523.5" y="885.2" font-size="11" fill="#555" text-anchor="middle" textLength="18.4" lengthAdjust="spacingAndGlyphs">Nov</text>
<text x="671.5" y="885.2" font-size="11" fill="#555" text-anchor="middle" textLength="18.4" lengthAdjust="spacingAndGlyphs">Dec</text>
<text x="820.5" y="885.2" font-size="11" fill="#555" text-anchor="middle" textLength="21.6" lengthAdjust="spacingAndGlyphs" font-weight="bold">2021</text>
<text x="954.5" y="885.2" font-size="11" fill="#555" text-anchor="middle" textLength="17.8" lengthAdjust="spacingAndGlyphs">Feb</text>
<text x="1088.5" y="885.2" font-size="11" fill="#555" text-anchor="middle" textLength="17.8" lengthAdjust="spacingAndGlyphs">Mar</text>
<text x="1166.5" y="885.2" font-size="11" fill="#555" text-anchor="middle" textLength="10.8" lengthAdjust="spacingAndGlyphs">16</text>
<text x="1251.5" y="885.2" font-size="11" fill="#555" text-anchor="middle" textLength="16.1" lengthAdjust="spacingAndGlyphs">Apr</text>
<text x="1385.5" y="885.2" font-size="11" fill="#555" text-anchor="middle" textLength="19.5" lengthAdjust="spacingAndGlyphs">May</text>
<text x="1534.5" y="885.2" font-size="11" fill="#555" text-anchor="middle" textLength="16.7" lengthAdjust="spacingAndGlyphs">Jun</text>
<path d="M70.5 866.5v4M219.5 866.5v4M296.5 866.5v4M374.5 866.5v4M523.5 866.5v4M671.5 866.5v4M820.5 866.5v4M954.5 866.5v4M1088.5 866.5v4M1166.5 866.5v4M1251.5 866.5v4M1385.5 866.5v4M1534.5 866.5v4" stroke="#4f4f4f" stroke-width="1"/>
</g>
<g fill="#2196f3"><circle cx="16.2" cy="910.5" r="6.8"/><circle cx="10.6" cy="914.6" r="4.6"/><circle cx="27.4" cy="914.3" r="4.9"/><circle cx="22.8" cy="911.6" r="4.3"/><rect x="10.6" y="911" width="16.8" height="8.2"/></g>
<path d="M7.4 915.9L15.6 909.6L21.9 915.4L28.6 909" stroke="#131722" stroke-width="1.25" fill="none" stroke-linejoin="round"/>
<circle cx="15.6" cy="909.6" r="1.7" fill="#131722"/><circle cx="21.9" cy="915.4" r="1.7" fill="#131722"/>
</svg>
<div class="hd" id="h1" style="top:5px"><b>NZ_Shareman</b> published on TradingView.com, February 07, 2021 20:42:17 EST</div>
<div class="hd" id="h2" style="top:22px"><b>NZX_DLY:HGH, 1D</b>&nbsp;1.85 <span class="t tri">&#9650;</span> +0.01 (+0.54%) <b>O:</b><span class="t">1.84</span> <b class="k">H:</b><span class="t">1.85</span> <b class="k">L:</b><span class="t">1.83</span> <b class="k">C:</b><span class="t">1.85</span></div>
<div class="ft">TradingView</div>
</body></html>
